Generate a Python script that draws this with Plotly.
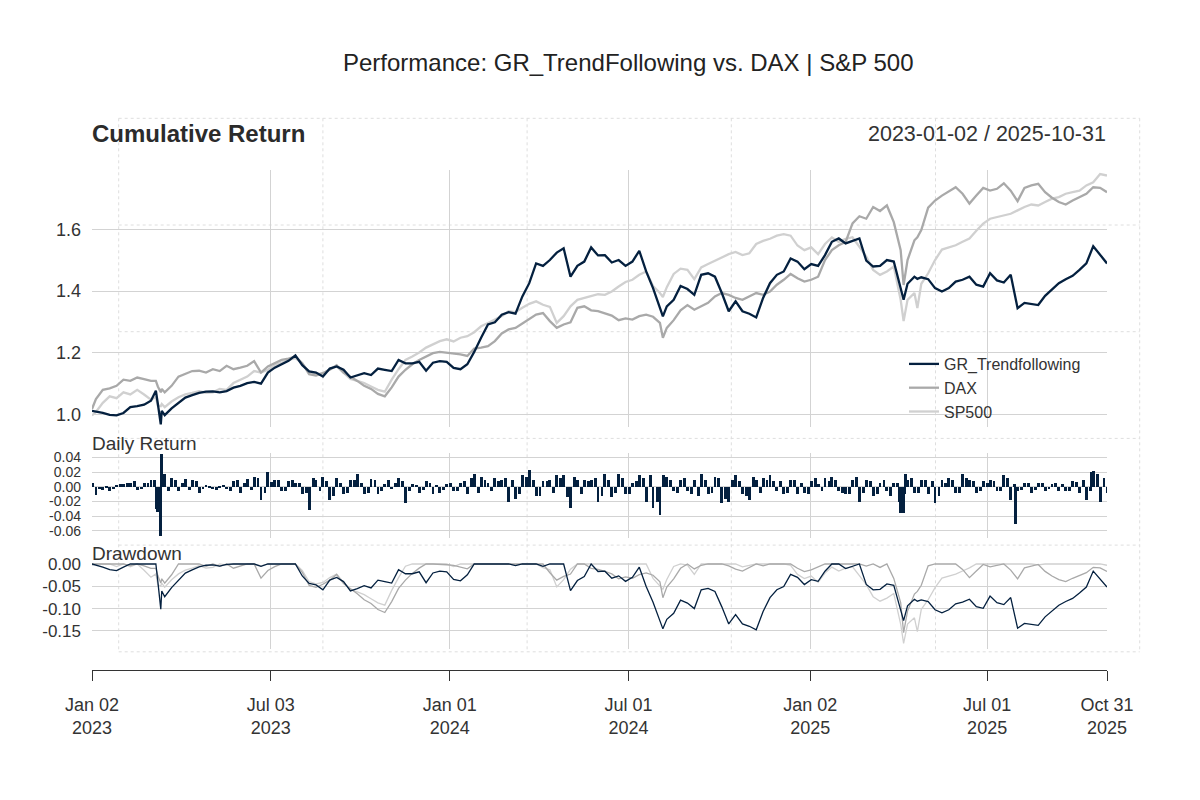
import pandas as pd
import numpy as np
import plotly.graph_objects as go

# ---------------- data ----------------
start_date = "2023-01-02"
end_date = "2025-10-31"
week_dates = [start_date] + [d.strftime("%Y-%m-%d") for d in
                             pd.date_range("2023-01-06", end_date, freq="W-FRI")]

gr_cum = [
    1.012,
    1.010, 1.005, 0.999, 0.997, 1.005, 1.024, 1.027, 1.032, 1.045, 1.035,
    0.998, 1.020, 1.038, 1.055, 1.063, 1.070, 1.074, 1.075, 1.072, 1.076,
    1.087, 1.093, 1.102, 1.106, 1.100, 1.136, 1.152, 1.163, 1.174, 1.192,
    1.160, 1.140, 1.136, 1.123, 1.149, 1.156, 1.145, 1.120, 1.126, 1.134,
    1.128, 1.149, 1.145, 1.141, 1.177, 1.166, 1.166, 1.171, 1.142, 1.168,
    1.173, 1.171, 1.151, 1.147, 1.163, 1.203, 1.249, 1.292, 1.299, 1.324,
    1.332, 1.327, 1.383, 1.426, 1.490, 1.482, 1.501, 1.525, 1.539, 1.447,
    1.482, 1.496, 1.542, 1.516, 1.517, 1.493, 1.501, 1.482, 1.496, 1.531,
    1.464, 1.410, 1.346, 1.351, 1.372, 1.417, 1.407, 1.388, 1.453, 1.458,
    1.447, 1.394, 1.335, 1.367, 1.335, 1.327, 1.315, 1.378, 1.426, 1.453,
    1.464, 1.506, 1.496, 1.471, 1.488, 1.482, 1.517, 1.560, 1.571, 1.555,
    1.562, 1.571, 1.499, 1.480, 1.482, 1.501, 1.496, 1.415, 1.424, 1.447,
    1.445, 1.439, 1.410, 1.399, 1.410, 1.431, 1.437, 1.447, 1.421, 1.415,
    1.458, 1.435, 1.428, 1.453, 1.345, 1.362, 1.358, 1.355, 1.385, 1.407,
    1.426, 1.439, 1.450, 1.469, 1.490, 1.546, 1.517, 1.490,
]
dax_cum = [
    1.018,
    1.050, 1.080, 1.085, 1.093, 1.113, 1.109, 1.120, 1.115, 1.109, 1.091,
    1.072, 1.093, 1.123, 1.131, 1.141, 1.142, 1.136, 1.147, 1.141, 1.158,
    1.147, 1.152, 1.158, 1.173, 1.136, 1.156, 1.166, 1.177, 1.181, 1.188,
    1.166, 1.131, 1.126, 1.134, 1.145, 1.160, 1.136, 1.123, 1.109, 1.093,
    1.083, 1.067, 1.059, 1.088, 1.123, 1.145, 1.163, 1.177, 1.188, 1.199,
    1.203, 1.201, 1.199, 1.195, 1.190, 1.214, 1.217, 1.222, 1.238, 1.263,
    1.276, 1.281, 1.295, 1.310, 1.324, 1.329, 1.303, 1.281, 1.292, 1.299,
    1.346, 1.351, 1.338, 1.335, 1.329, 1.321, 1.306, 1.312, 1.308, 1.319,
    1.324, 1.317, 1.297, 1.281, 1.306, 1.338, 1.355, 1.340, 1.351, 1.362,
    1.383, 1.394, 1.388, 1.378, 1.372, 1.383, 1.394, 1.388, 1.399, 1.421,
    1.437, 1.456, 1.442, 1.431, 1.437, 1.447, 1.501, 1.533, 1.549, 1.560,
    1.620, 1.643, 1.635, 1.673, 1.660, 1.678, 1.624, 1.533, 1.501, 1.565,
    1.598, 1.671, 1.694, 1.710, 1.724, 1.737, 1.716, 1.684, 1.710, 1.735,
    1.726, 1.732, 1.750, 1.726, 1.692, 1.735, 1.743, 1.748, 1.721, 1.703,
    1.689, 1.681, 1.694, 1.705, 1.716, 1.737, 1.735, 1.721,
]
sp500_cum = [
    0.997,
    1.008, 1.038, 1.059, 1.053, 1.072, 1.065, 1.080, 1.065, 1.048, 1.029,
    1.024, 1.042, 1.056, 1.065, 1.070, 1.076, 1.070, 1.072, 1.083, 1.080,
    1.102, 1.113, 1.123, 1.141, 1.136, 1.145, 1.160, 1.168, 1.177, 1.183,
    1.166, 1.136, 1.130, 1.134, 1.147, 1.156, 1.134, 1.115, 1.109, 1.102,
    1.091, 1.080, 1.074, 1.113, 1.147, 1.177, 1.188, 1.201, 1.217, 1.227,
    1.238, 1.244, 1.237, 1.249, 1.254, 1.267, 1.286, 1.297, 1.308, 1.319,
    1.335, 1.332, 1.346, 1.359, 1.367, 1.356, 1.349, 1.297, 1.319, 1.351,
    1.372, 1.378, 1.383, 1.390, 1.388, 1.399, 1.415, 1.430, 1.437, 1.453,
    1.464, 1.417, 1.394, 1.413, 1.456, 1.473, 1.469, 1.439, 1.477, 1.488,
    1.499, 1.510, 1.520, 1.527, 1.517, 1.523, 1.553, 1.563, 1.570, 1.580,
    1.585, 1.580, 1.548, 1.533, 1.542, 1.520, 1.553, 1.574, 1.560, 1.570,
    1.575, 1.544, 1.512, 1.469, 1.453, 1.464, 1.480, 1.372, 1.372, 1.394,
    1.424, 1.458, 1.501, 1.535, 1.542, 1.549, 1.560, 1.571, 1.596, 1.619,
    1.635, 1.641, 1.646, 1.651, 1.662, 1.673, 1.681, 1.678, 1.689, 1.700,
    1.705, 1.716, 1.721, 1.726, 1.743, 1.753, 1.780, 1.775,
]

extra_dates = ["2023-03-08", "2023-03-13", "2023-03-14", "2024-08-05", "2025-04-07", "2025-04-21"]
extra_gr = [1.077, 0.968, 1.012, 1.318, 1.372, 1.440]
extra_dax = [1.109, 1.072, 1.083, 1.249, 1.420, 1.575]
extra_sp500 = [1.056, 1.027, 1.034, 1.381, 1.303, 1.345]

# daily-return bars: Friday readings, Tuesday readings, and a few extra spikes
fri_dates = week_dates[1:]
gr_ret_fri = [
    -0.011, -0.004, -0.005, 0.003, 0.004, 0.005, -0.004, 0.006, 0.010, -0.034,
    0.018, 0.012, -0.006, 0.011, 0.010, -0.008, 0.003, -0.002, 0.002, -0.003,
    0.008, -0.008, 0.011, 0.014, -0.017, 0.020, 0.010, -0.006, 0.008, 0.006,
    -0.010, -0.031, 0.009, 0.014, -0.017, 0.012, -0.010, 0.010, 0.018, -0.010,
    0.011, -0.010, 0.004, -0.003, 0.012, -0.022, 0.004, -0.008, 0.008, -0.010,
    -0.008, 0.004, -0.006, 0.005, -0.010, 0.018, 0.013, 0.006, 0.012, 0.010,
    -0.020, -0.016, 0.017, 0.023, -0.012, 0.008, 0.010, 0.016, 0.017, -0.029,
    0.010, 0.010, 0.010, -0.020, 0.018, -0.014, 0.018, -0.010, 0.006, 0.016,
    -0.020, -0.028, -0.038, 0.014, -0.006, 0.010, -0.005, 0.010, 0.018, -0.010,
    0.014, -0.022, -0.020, 0.017, -0.010, -0.018, 0.010, 0.012, 0.016, -0.006,
    -0.010, 0.010, -0.010, -0.008, 0.008, 0.004, 0.012, 0.014, -0.005, -0.010,
    0.010, -0.020, 0.010, -0.012, 0.005, -0.005, 0.006, -0.035, 0.010, -0.008,
    0.010, -0.010, -0.022, 0.010, 0.012, -0.008, 0.018, 0.010, -0.008, 0.008,
    0.010, -0.006, 0.016, -0.018, -0.006, 0.006, -0.008, 0.006, -0.005, 0.004,
    -0.005, -0.006, 0.008, -0.008, -0.017, 0.022, -0.020, -0.008,
]
tue_dates = [d.strftime("%Y-%m-%d") for d in pd.date_range("2023-01-03", "2025-10-28", freq="W-TUE")]
gr_ret_tue = [
    0.005, -0.003, 0.002, -0.002, 0.004, 0.006, 0.008, -0.003, 0.005, 0.010,
    0.045, -0.006, 0.010, 0.006, -0.004, 0.008, -0.002, 0.001, -0.004, 0.003,
    -0.005, 0.010, 0.006, -0.004, 0.012, -0.008, 0.007, 0.009, -0.005, 0.010,
    0.005, -0.008, 0.012, -0.006, 0.008, -0.012, 0.006, -0.008, 0.010, 0.006,
    -0.008, 0.009, -0.005, 0.010, 0.006, 0.008, -0.006, 0.003, -0.004, 0.006,
    0.003, -0.004, 0.005, -0.006, 0.008, 0.012, -0.008, 0.010, -0.006, 0.008,
    0.012, 0.009, -0.010, 0.014, 0.010, -0.012, 0.008, -0.008, 0.012, -0.014,
    0.014, -0.010, 0.008, 0.012, -0.012, 0.010, -0.008, 0.012, -0.010, 0.008,
    0.012, 0.017, -0.020, 0.016, 0.010, -0.008, 0.012, -0.010, -0.012, 0.010,
    -0.008, 0.012, -0.016, 0.010, 0.008, -0.012, 0.014, -0.008, 0.010, 0.008,
    0.008, -0.008, 0.010, 0.006, -0.010, 0.012, -0.006, 0.008, 0.010, -0.008,
    -0.010, 0.014, -0.008, 0.008, -0.010, 0.010, -0.012, 0.006, -0.010, 0.012,
    -0.008, 0.010, 0.008, -0.012, 0.006, 0.010, -0.008, 0.012, 0.008, -0.006,
    0.006, 0.008, -0.006, 0.012, 0.004, -0.004, 0.005, -0.004, 0.006, -0.003,
    0.005, 0.004, -0.005, 0.007, 0.010, -0.006, 0.018, 0.012,
]
extra_ret_dates = ["2023-03-09", "2023-03-13", "2024-07-31",
                   "2025-04-03", "2025-04-07", "2025-04-09", "2025-07-30", "2025-10-15"]
extra_ret = [-0.030, -0.066, -0.020,
             -0.020, -0.035, 0.018, -0.050, 0.020]

x_tick_vals = ["2023-01-02", "2023-07-03", "2024-01-01", "2024-07-01",
               "2025-01-02", "2025-07-01", "2025-10-31"]
x_tick_text = ["Jan 02<br>2023", "Jul 03<br>2023", "Jan 01<br>2024", "Jul 01<br>2024",
               "Jan 02<br>2025", "Jul 01<br>2025", "Oct 31<br>2025"]
y1_ticks = [1.0, 1.2, 1.4, 1.6]
y1_text = ["1.0", "1.2", "1.4", "1.6"]
y2_ticks = [0.04, 0.02, 0.0, -0.02, -0.04, -0.06]
y2_text = ["0.04", "0.02", "0.00", "-0.02", "-0.04", "-0.06"]
y3_ticks = [0.0, -0.05, -0.10, -0.15]
y3_text = ["0.00", "-0.05", "-0.10", "-0.15"]

# ---------------- tables ----------------
cum = pd.DataFrame({"date": week_dates + extra_dates,
                    "GR": gr_cum + extra_gr,
                    "DAX": dax_cum + extra_dax,
                    "SP500": sp500_cum + extra_sp500})
cum["date"] = pd.to_datetime(cum["date"])
cum = cum.sort_values("date").reset_index(drop=True)
dd = {}
for c in ["GR", "DAX", "SP500"]:
    w = cum[c].to_numpy()
    peak = np.maximum.accumulate(np.maximum(w, 1.0))
    dd[c] = w / peak - 1.0

rets = pd.DataFrame({"date": fri_dates + tue_dates + extra_ret_dates,
                     "r": gr_ret_fri + gr_ret_tue + extra_ret})
rets["date"] = pd.to_datetime(rets["date"])
rets = rets.sort_values("date")

# ---------------- geometry (screen px -> paper) ----------------
W, H = 1200, 800
OFF = 8  # page body margin of the viewer
PL, PR, PT, PB = 92, 1107, 100, 700  # target plot box in screen px
ML, MT = PL - OFF, PT - OFF
MR, MB = W - (PR - OFF), H - (PB - OFF)
PW, PH = PR - PL, PB - PT


def px_x(x):
    return (x - PL) / PW


def px_y(y):
    return (PB - y) / PH


NAVY = "#04203f"
DAX_C = "#a9a9a9"
SP_C = "#d0d0d0"
GRID = "#d3d3d3"
TXT = "#333333"
FONT = "Liberation Sans, Arial, sans-serif"

fig = go.Figure()

fig.add_trace(go.Scatter(x=cum["date"], y=cum["SP500"], mode="lines", name="SP500",
                         line=dict(color=SP_C, width=2.3), legendrank=3))
fig.add_trace(go.Scatter(x=cum["date"], y=cum["DAX"], mode="lines", name="DAX",
                         line=dict(color=DAX_C, width=2.3), legendrank=2))
fig.add_trace(go.Scatter(x=cum["date"], y=cum["GR"], mode="lines", name="GR_Trendfollowing",
                         line=dict(color=NAVY, width=2.3), legendrank=1))
fig.add_trace(go.Bar(x=rets["date"], y=rets["r"], yaxis="y2", marker_color=NAVY,
                     marker_line_width=0, width=2.9 * 86400000, showlegend=False))
fig.add_trace(go.Scatter(x=cum["date"], y=dd["SP500"], yaxis="y3", mode="lines",
                         line=dict(color=SP_C, width=1.3), showlegend=False))
fig.add_trace(go.Scatter(x=cum["date"], y=dd["DAX"], yaxis="y3", mode="lines",
                         line=dict(color=DAX_C, width=1.3), showlegend=False))
fig.add_trace(go.Scatter(x=cum["date"], y=dd["GR"], yaxis="y3", mode="lines",
                         line=dict(color=NAVY, width=1.3), showlegend=False))

shapes = []
vx = [118.7 + 204.2 * k for k in range(6)]
hy = [118.3 + 106.7 * k for k in range(6)]
for x in vx:
    shapes.append(dict(type="line", xref="paper", yref="paper", x0=px_x(x), x1=px_x(x),
                       y0=px_y(hy[0]), y1=px_y(hy[-1]), layer="below",
                       line=dict(color="#dedede", width=1, dash="dot")))
for y in hy:
    shapes.append(dict(type="line", xref="paper", yref="paper", x0=px_x(vx[0]), x1=px_x(vx[-1]),
                       y0=px_y(y), y1=px_y(y), layer="below",
                       line=dict(color="#dedede", width=1, dash="dot")))


def yax(size):
    return dict(showgrid=True, gridcolor=GRID, gridwidth=1, zeroline=False, showline=False,
                ticks="", tickfont=dict(size=size, color=TXT), ticklabelstandoff=10, anchor="x")


fig.update_layout(
    width=W, height=H,
    margin=dict(l=ML, r=MR, t=MT, b=MB),
    paper_bgcolor="white", plot_bgcolor="rgba(0,0,0,0)",
    font=dict(family=FONT, color=TXT),
    showlegend=True,
    legend=dict(x=px_x(904), y=px_y(347), xanchor="left", yanchor="top",
                bgcolor="rgba(0,0,0,0)", font=dict(size=16, color=TXT),
                tracegroupgap=0, itemwidth=30),
    xaxis=dict(type="date", range=[start_date, end_date], domain=[0, 1],
               anchor="free", position=px_y(670),
               tickvals=x_tick_vals, ticktext=x_tick_text, tickmode="array",
               ticks="outside", ticklen=10, tickcolor=TXT, tickwidth=1,
               ticklabelstandoff=8,
               showline=True, linecolor=TXT, linewidth=1.3,
               showgrid=True, gridcolor=GRID, gridwidth=1, zeroline=False,
               tickfont=dict(size=18, color=TXT)),
    yaxis=dict(domain=[px_y(427), px_y(170)], range=[0.9595, 1.793],
               tickvals=y1_ticks, ticktext=y1_text, **yax(18)),
    yaxis2=dict(domain=[px_y(538.3), px_y(452.7)], range=[-0.0702, 0.0463],
                tickvals=y2_ticks, ticktext=y2_text, **yax(14)),
    yaxis3=dict(domain=[px_y(649.3), px_y(563)], range=[-0.191, 0.0022],
                tickvals=y3_ticks, ticktext=y3_text, **yax(17)),
    shapes=shapes,
    bargap=0,
)

annotations = [
    dict(text="Performance: GR_TrendFollowing vs. DAX | S&P 500", x=px_x(628), y=px_y(62),
         xanchor="center", yanchor="middle", font=dict(size=24, color="#222222")),
    dict(text="<b>Cumulative Return</b>", x=px_x(90), y=px_y(134), xanchor="left", yanchor="middle",
         font=dict(size=24, color="#2b2b2b")),
    dict(text="2023-01-02 / 2025-10-31", x=px_x(1108), y=px_y(134), xanchor="right",
         yanchor="middle", font=dict(size=21.5, color=TXT)),
    dict(text="Daily Return", x=px_x(90), y=px_y(443), xanchor="left", yanchor="middle",
         font=dict(size=19, color=TXT)),
    dict(text="Drawdown", x=px_x(90), y=px_y(553), xanchor="left", yanchor="middle",
         font=dict(size=19, color=TXT)),
]
for a in annotations:
    a.update(xref="paper", yref="paper", showarrow=False)
fig.update_layout(annotations=annotations)

fig.write_html("out.html")
